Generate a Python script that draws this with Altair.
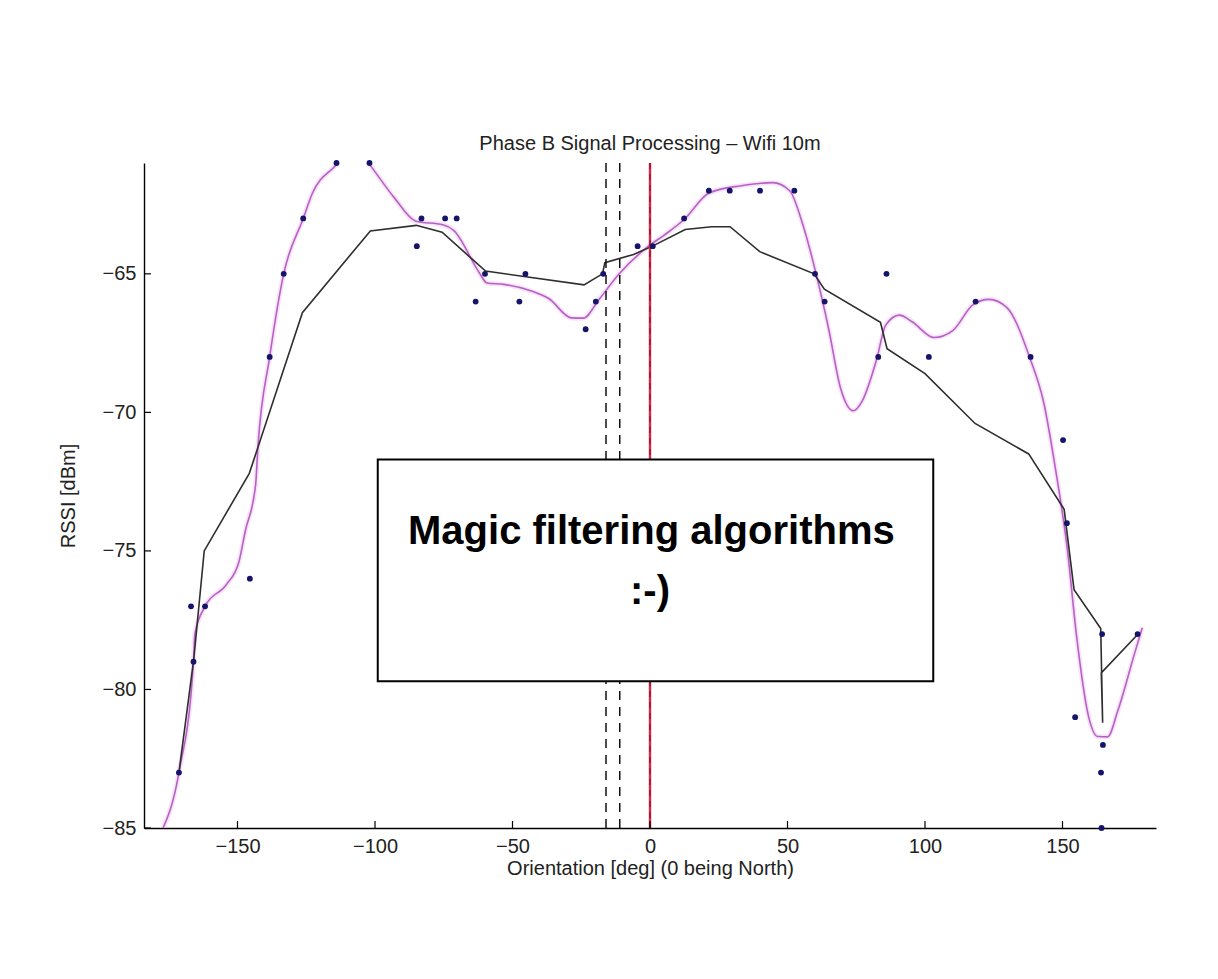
import altair as alt
import pandas as pd

# ---- data (orientation in deg, RSSI in dBm) ----
dot_x = [-171.3, -166.9, -166.0, -161.8, -145.5, -138.3, -133.2, -126.1, -114.0, -102.0,
         -84.8, -83.1, -74.5, -70.3, -63.4, -60.0, -47.5, -45.3, -23.4, -19.7,
         -17.0, -4.5, 1.0, 12.4, 21.4, 29.0, 40.0, 52.5, 60.0, 63.5,
         83.0, 86.0, 101.4, 118.4, 138.4, 150.2, 151.6, 154.6, 164.0, 164.2,
         164.4, 164.7, 177.3]
dot_y = [-83, -77, -79, -77, -76, -68, -65, -63, -61, -61,
         -64, -63, -63, -63, -66, -65, -66, -65, -67, -66,
         -65, -64, -64, -63, -62, -62, -62, -62, -65, -66,
         -68, -65, -68, -66, -68, -71, -74, -81, -83, -85,
         -78, -82, -78]

# black (moving average) line, in drawing order
avg_x = [-171.3, -165.9, -162.1, -145.7, -126.4, -101.7, -85.0, -75.6, -59.8, -24.0,
         -17.3, -16.4, -6.0, 0.9, 12.8, 22.4, 29.1, 39.9, 59.7, 63.4,
         83.8, 86.2, 100.0, 118.2, 137.7, 150.6, 154.2, 163.9, 164.6, 164.1,
         177.5]
avg_y = [-83.0, -78.9, -75.0, -72.2, -66.4, -63.45, -63.25, -63.5, -64.9, -65.4,
         -65.0, -64.6, -64.3, -64.0, -63.4, -63.3, -63.3, -64.2, -65.0, -65.55,
         -66.75, -67.7, -68.6, -70.4, -71.5, -73.5, -76.4, -77.8, -81.2, -79.4,
         -78.0]

# magenta smoothed curve
fit_x = [-178, -171.3, -166, -165.5, -161.8, -153.9, -149.5, -147.2, -143.4, -142.6,
         -138.3, -133.2, -126.1, -122.8, -114, -108, -102, -93, -85.1, -75.3,
         -71.4, -62.2, -59.3, -53.2, -43.1, -36.7, -28.6, -24.3, -18.5, -11.2,
         -0.9, 5.2, 12.4, 21.5, 33.2, 44.6, 50.8, 55.5, 60.4, 65.0,
         69.2, 73.9, 77.1, 82.4, 85.7, 90.7, 95.3, 103.3, 110.2, 117.5,
         123.3, 129.7, 138.1, 143.2, 147.4, 151.8, 155.1, 159.3, 162.8, 166.4,
         170.1, 176.0, 179.0]
fit_y = [-85.2, -83.0, -79.0, -78.0, -77.0, -76.2, -75.4, -74.3, -72.6, -71.3,
         -68.0, -65.0, -63.0, -62.1, -61.05, -60.3, -61.05, -62.25, -63.1, -63.23,
         -63.43, -64.94, -65.33, -65.38, -65.62, -65.9, -66.59, -66.6, -65.92, -65.0,
         -64.03, -63.6, -63.04, -62.08, -61.82, -61.71, -62.0, -63.2, -65.0, -67.0,
         -69.09, -69.94, -69.6, -68.09, -66.85, -66.49, -66.73, -67.3, -67.04, -66.11,
         -65.92, -66.21, -68.03, -69.66, -72.01, -74.97, -78.06, -80.9, -81.7, -81.71,
         -80.77, -78.77, -77.77]

dashed_x = [-16, -11]
red_x = [0]

x_ticks = [-150, -100, -50, 0, 50, 100, 150]
y_ticks = [-85, -80, -75, -70, -65]

box_x = [-99]
box_x2 = [103]
box_y = [-79.7]
box_y2 = [-71.7]

note_text = ["Magic filtering algorithms", ":-)"]
note_x = [0.5, 0.0]
note_y = [-74.3, -76.5]

# ---- dataframes ----
dots_df = pd.DataFrame({"x": dot_x, "y": dot_y})
avg_df = pd.DataFrame({"x": avg_x, "y": avg_y, "i": list(range(len(avg_x)))})
fit_df = pd.DataFrame({"x": fit_x, "y": fit_y})
dash_df = pd.DataFrame({"x": dashed_x})
red_df = pd.DataFrame({"x": red_x})
xt_df = pd.DataFrame({"x": x_ticks})
yt_df = pd.DataFrame({"y": y_ticks})
box_df = pd.DataFrame({"x": box_x, "x2": box_x2, "y": box_y, "y2": box_y2})
note_df = pd.DataFrame({"x": note_x, "y": note_y, "t": note_text})

W, H = 1012, 665
FONT = "Liberation Sans, Arial, Helvetica, sans-serif"

xs = alt.Scale(domain=[-184, 184], nice=False, zero=False)
ys = alt.Scale(domain=[-85, -61], nice=False, zero=False)

xaxis = alt.Axis(values=x_ticks, ticks=False, grid=False, domainColor="black",
                 domainWidth=1.4, labelFont=FONT, labelFontSize=20, labelColor="#222",
                 labelPadding=8, labelFlush=False, title="Orientation [deg] (0 being North)",
                 titleFont=FONT, titleFontSize=20, titleFontWeight="normal",
                 titleColor="#222", titlePadding=2)
yaxis = alt.Axis(values=y_ticks, ticks=False, grid=False, domainColor="black",
                 domainWidth=1.4, labelFont=FONT, labelFontSize=20, labelColor="#222",
                 labelPadding=8, labelFlush=False, title="RSSI [dBm]",
                 titleFont=FONT, titleFontSize=20, titleFontWeight="normal",
                 titleColor="#222", titlePadding=24)

X = alt.X("x:Q", scale=xs, axis=xaxis)
Y = alt.Y("y:Q", scale=ys, axis=yaxis)

glow = alt.Chart(fit_df).mark_line(interpolate="monotone", color="#f4d2f4",
                                   strokeWidth=5, opacity=0.6, clip=True).encode(x=X, y=Y)
fit = alt.Chart(fit_df).mark_line(interpolate="monotone", color="#b562c4",
                                  strokeWidth=1.6, clip=True).encode(x=X, y=Y)
avg = alt.Chart(avg_df).mark_line(color="#2e2e2e", strokeWidth=1.6, clip=True).encode(
    x=X, y=Y, order="i:Q")
dashed = alt.Chart(dash_df).mark_rule(color="#111", strokeWidth=1.5,
                                      strokeDash=[9, 7]).encode(x=X)
red = alt.Chart(red_df).mark_rule(color="#d42a4a", strokeWidth=2.4).encode(x=X)
red_d = alt.Chart(red_df).mark_rule(color="#7a1028", strokeWidth=1.0,
                                    strokeDash=[6, 5]).encode(x=X)
dots = alt.Chart(dots_df).mark_circle(color="#15146a", size=34, opacity=1).encode(x=X, y=Y)
xt = alt.Chart(xt_df).mark_rule(color="black", strokeWidth=1.2).encode(
    x=X, y=alt.value(H), y2=alt.value(H - 7))
yt = alt.Chart(yt_df).mark_rule(color="black", strokeWidth=1.2).encode(
    y=Y, x=alt.value(0), x2=alt.value(7))
box = alt.Chart(box_df).mark_rect(fill="white", stroke="black", strokeWidth=2).encode(
    x=X, x2="x2:Q", y=Y, y2="y2:Q")
note = alt.Chart(note_df).mark_text(font="Liberation Sans, Arial, sans-serif",
                                    fontWeight="bold", fontSize=40, color="black",
                                    align="center", baseline="middle").encode(
    x=X, y=Y, text="t:N")

chart = alt.layer(glow, fit, avg, dashed, red, red_d, dots, xt, yt, box, note).properties(
    width=W, height=H,
    title=alt.TitleParams("Phase B Signal Processing – Wifi 10m", font=FONT, fontSize=20,
                          fontWeight="normal", color="#222", anchor="middle", offset=6),
    autosize=alt.AutoSizeParams(type="none"),
    padding={"left": 144, "top": 163, "right": 62, "bottom": 151},
    background="white",
).configure_view(stroke=None)

chart.save("out.html", embed_options={"renderer": "svg", "actions": False})
